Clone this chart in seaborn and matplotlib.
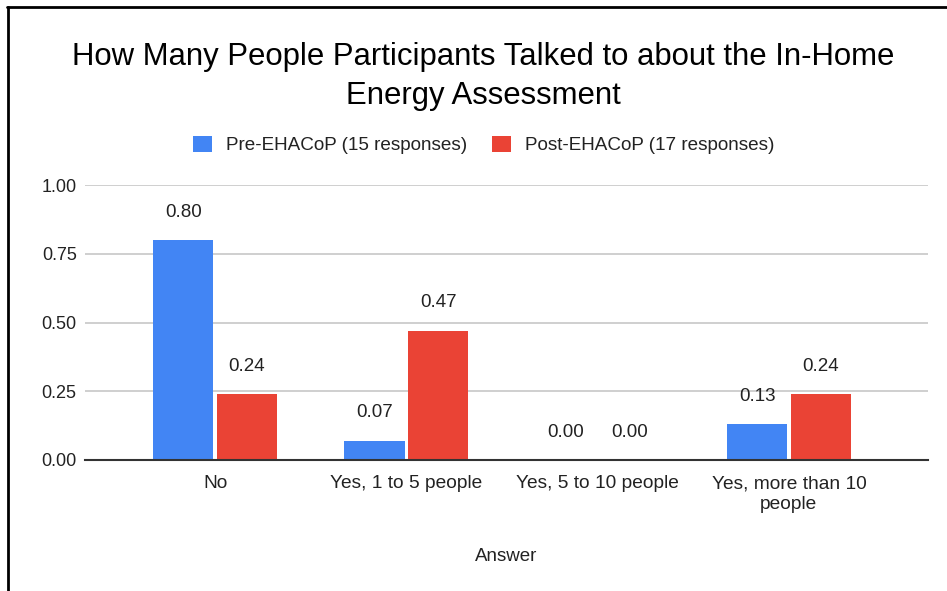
import matplotlib
matplotlib.use("Agg")
import matplotlib.pyplot as plt
from matplotlib.lines import Line2D
from matplotlib.patches import Patch
import seaborn as sns
import pandas as pd

categories = ["No", "Yes, 1 to 5 people", "Yes, 5 to 10 people", "Yes, more than 10 people"]
tick_labels = ["No", "Yes, 1 to 5 people", "Yes, 5 to 10 people", "Yes, more than 10\npeople"]
pre_values = [0.80, 0.07, 0.00, 0.13]
post_values = [0.24, 0.47, 0.00, 0.24]
series_names = ["Pre-EHACoP (15 responses)", "Post-EHACoP (17 responses)"]
y_ticks = [0.00, 0.25, 0.50, 0.75, 1.00]
colors = ["#4285F4", "#EA4335"]

df = pd.DataFrame({
    "Answer": categories * 2,
    "Value": pre_values + post_values,
    "Series": [series_names[0]] * 4 + [series_names[1]] * 4,
})

sns.set_theme(style="white")
plt.rcParams["font.family"] = ["Liberation Sans", "DejaVu Sans"]

fig = plt.figure(figsize=(9.47, 5.91), dpi=100)
ax = fig.add_axes([85 / 947, 1 - 460 / 591, (928 - 85) / 947, (460 - 185) / 591])

sns.barplot(data=df, x="Answer", y="Value", hue="Series", palette=colors,
            order=categories, hue_order=series_names, width=0.665, gap=0.05,
            ax=ax, legend=False, saturation=1, edgecolor="none", linewidth=0)

ax.set_xlim(-0.68, 3.727)
ax.set_ylim(0, 1)
ax.set_yticks(y_ticks)
ax.set_yticklabels([f"{v:.2f}" for v in y_ticks], fontsize=13, color="#222222")
ax.set_xticks(range(len(categories)))
ax.set_xticklabels(tick_labels, fontsize=13.8, color="#222222", linespacing=1.3, va="top")
ax.tick_params(axis="y", length=0, pad=6)
ax.tick_params(axis="x", length=0, pad=11)
ax.yaxis.grid(True, color="#cccccc", linewidth=1.3)
ax.set_axisbelow(True)
for s in ["top", "right", "left"]:
    ax.spines[s].set_visible(False)
ax.spines["bottom"].set_color("#333333")
ax.spines["bottom"].set_linewidth(1.5)
ax.spines["bottom"].set_zorder(5)

for container in ax.containers:
    ax.bar_label(container, fmt="%.2f", padding=14, fontsize=13.5, color="#222222")

ax.set_ylabel("")
ax.set_xlabel("Answer", fontsize=13.5, color="#222222", labelpad=25)

fig.suptitle("How Many People Participants Talked to about the In-Home\nEnergy Assessment",
             x=483 / 947, y=1 - 42.5 / 591, fontsize=22.4, color="black", linespacing=1.35, va="top")

handles = [Patch(facecolor=c, edgecolor="none") for c in colors]
fig.legend(handles, series_names, loc="center", bbox_to_anchor=(484 / 947, 1 - 145 / 591),
           ncol=2, frameon=False, fontsize=13.6, handlelength=1.0, handleheight=1.0,
           handletextpad=0.75, columnspacing=1.3, labelcolor="#222222")

# frame lines along the top and left edges
fig.add_artist(Line2D([7 / 947, 1], [1 - 7 / 591, 1 - 7 / 591], color="black", linewidth=2,
                      transform=fig.transFigure))
fig.add_artist(Line2D([8 / 947, 8 / 947], [0, 1 - 7 / 591], color="black", linewidth=2,
                      transform=fig.transFigure))

fig.savefig("out.png", dpi=100)
